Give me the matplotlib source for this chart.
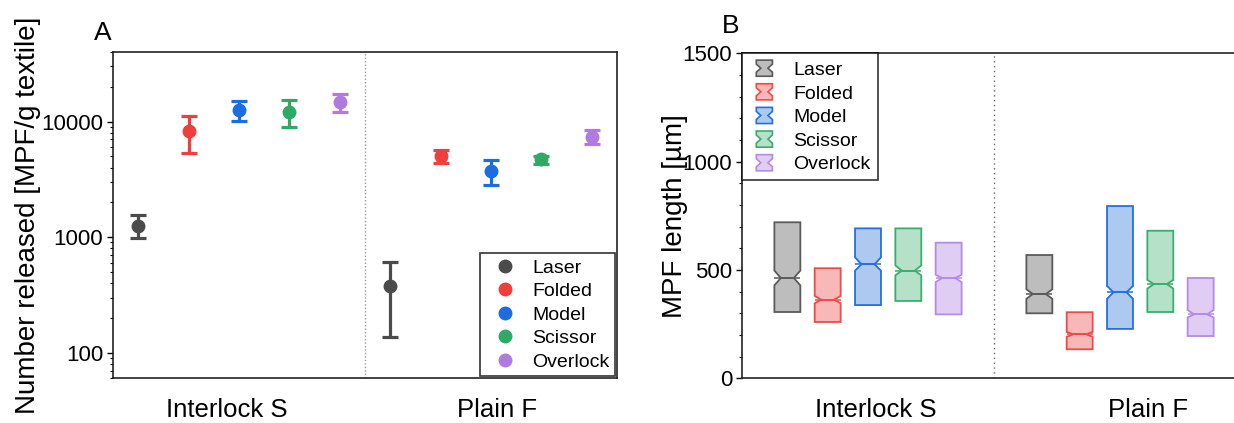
import matplotlib
matplotlib.use("Agg")
import matplotlib.pyplot as plt
import numpy as np
from matplotlib.legend_handler import HandlerBase
from matplotlib.patches import Polygon, Patch
from matplotlib.ticker import FixedLocator, NullFormatter, LogLocator, MultipleLocator

plt.rcParams['font.family'] = ['Liberation Sans', 'DejaVu Sans']

# ---------------- data ----------------
groups = ["Interlock S", "Plain F"]
methods = ["Laser", "Folded", "Model", "Scissor", "Overlock"]

# Panel A: number released (mean, sd) per method, per group
num_mean_interlock = [1260, 8300, 12600, 12200, 14700]
num_sd_interlock = [280, 2950, 2500, 3200, 2500]
num_mean_plain = [375, 5050, 3750, 4700, 7400]
num_sd_plain = [237, 670, 940, 380, 1050]

# Panel B: MPF length box stats per method (q1, median, q3, notch low, notch high)
len_q1_interlock = [306, 260, 338, 357, 295]
len_med_interlock = [463, 363, 526, 497, 463]
len_q3_interlock = [720, 508, 692, 692, 626]
len_cilo_interlock = [429, 346, 497, 475, 444]
len_cihi_interlock = [497, 380, 558, 521, 478]

len_q1_plain = [300, 134, 228, 306, 195]
len_med_plain = [389, 203, 397, 435, 295]
len_q3_plain = [569, 305, 795, 681, 463]
len_cilo_plain = [367, 192, 367, 414, 281]
len_cihi_plain = [411, 214, 426, 454, 315]

# ---------------- styles ----------------
dot_colors = ["#4b4b4b", "#ef3e3e", "#1b6de0", "#2eaa66", "#b07be0"]
box_fill = ["#bdbdbd", "#f8b8b8", "#adc9f0", "#b5e1c8", "#e0cdf3"]
box_edge = ["#5a5a5a", "#ee4a4a", "#2270e0", "#3aad6e", "#b48ae6"]

fig = plt.figure(figsize=(12.34, 4.23), dpi=100)

axA = fig.add_axes([113/1234, 1-378.3/423, 504/1234, (378.3-52)/423])
axB = fig.add_axes([742/1234, 1-378.3/423, 504/1234, (378.3-53.3)/423])

group_pos = np.array([1.0, 2.0])

# ---------------- Panel A ----------------
offA = 0.2
handlesA = []
for i, m in enumerate(methods):
    xs = group_pos + (i - 2) * offA
    ys = [num_mean_interlock[i], num_mean_plain[i]]
    es = [num_sd_interlock[i], num_sd_plain[i]]
    c = axA.errorbar(xs, ys, yerr=es, fmt='o', color=dot_colors[i], ms=9,
                     capsize=6, capthick=2.3, elinewidth=2.3)
    handlesA.append(c.lines[0])

axA.set_yscale('log')
axA.set_ylim(60, 40000)
axA.set_xlim(0.5, 2.5)
axA.axvline(1.5, color='#9a9a9a', lw=1.0, ls=(0, (1, 1.5)))
axA.yaxis.set_major_locator(FixedLocator([100, 1000, 10000]))
axA.set_yticklabels(["100", "1000", "10000"])
axA.yaxis.set_minor_locator(LogLocator(base=10, subs=np.arange(2, 10)))
axA.yaxis.set_minor_formatter(NullFormatter())
axA.set_xticks([0.952, 2.024])
axA.set_xticklabels(groups)
axA.set_ylabel("Number released [MPF/g textile]", fontsize=20)
axA.yaxis.set_label_coords(-0.143, 0.5)
leg = axA.legend(handles=handlesA, labels=methods, loc='lower right',
                 bbox_to_anchor=(0.997, 0.006),
                 borderaxespad=0, fontsize=14, frameon=True, fancybox=False,
                 edgecolor='black', labelspacing=0.3, handlelength=2.0,
                 handletextpad=0.4, borderpad=0.3)
leg.get_frame().set_linewidth(1.2)

# ---------------- Panel B ----------------
offB = 0.16
wB = 0.103
for i, m in enumerate(methods):
    stats = []
    q1s = [len_q1_interlock[i], len_q1_plain[i]]
    meds = [len_med_interlock[i], len_med_plain[i]]
    q3s = [len_q3_interlock[i], len_q3_plain[i]]
    clo = [len_cilo_interlock[i], len_cilo_plain[i]]
    chi = [len_cihi_interlock[i], len_cihi_plain[i]]
    for g in range(2):
        stats.append(dict(med=meds[g], q1=q1s[g], q3=q3s[g], cilo=clo[g], cihi=chi[g],
                          whislo=q1s[g], whishi=q3s[g], fliers=[], label=m))
    pos = group_pos + (i - 2) * offB
    bp = axB.bxp(stats, positions=pos, widths=wB, shownotches=True, patch_artist=True,
                 showcaps=False, showfliers=False, manage_ticks=False,
                 boxprops=dict(facecolor=box_fill[i], edgecolor=box_edge[i], linewidth=1.3),
                 medianprops=dict(color=box_edge[i], linewidth=1.3),
                 whiskerprops=dict(linewidth=0))
    axB.hlines(meds, pos - wB/2, pos + wB/2, color=box_edge[i], lw=1.1)

axB.set_xlim(0.5, 2.5)
axB.set_ylim(0, 1500)
axB.axvline(1.5, color='#6a6a6a', lw=1.0, ls=(0, (1, 2.5)))
axB.yaxis.set_major_locator(FixedLocator([0, 500, 1000, 1500]))
axB.yaxis.set_minor_locator(MultipleLocator(100))
axB.set_xticks([1.03, 2.11])
axB.set_xticklabels(groups)
axB.set_ylabel("MPF length [\u00b5m]", fontsize=20)
axB.yaxis.set_label_coords(-0.108, 0.5)


class NotchHandler(HandlerBase):
    def create_artists(self, legend, orig_handle, xdescent, ydescent, width, height,
                       fontsize, trans):
        w = height * 1.0
        xc = -xdescent + width / 2
        x0, x1 = xc - w / 2, xc + w / 2
        y0 = -ydescent
        y1 = y0 + height
        ym = (y0 + y1) / 2
        nw = w * 0.22
        pts = [(x0, y0), (x1, y0), (x1, y0 + height * 0.25), (xc + nw, ym),
               (x1, y0 + height * 0.75), (x1, y1), (x0, y1), (x0, y0 + height * 0.75),
               (xc - nw, ym), (x0, y0 + height * 0.25)]
        p = Polygon(pts, closed=True, facecolor=orig_handle.get_facecolor(),
                    edgecolor=orig_handle.get_edgecolor(), linewidth=1.2, transform=trans)
        return [p]


handlesB = [Patch(facecolor=box_fill[i], edgecolor=box_edge[i], label=m)
            for i, m in enumerate(methods)]
legB = axB.legend(handles=handlesB, loc='upper left', bbox_to_anchor=(0.0, 1.0),
                  borderaxespad=0, fontsize=14, frameon=True, fancybox=False,
                  edgecolor='black', labelspacing=0.25, handlelength=1.6,
                  handleheight=0.9, handletextpad=0.7, borderpad=0.35,
                  handler_map={Patch: NotchHandler()})
legB.get_frame().set_linewidth(1.2)

# ---------------- common styling ----------------
for ax in (axA, axB):
    for s in ax.spines.values():
        s.set_linewidth(1.2)
        s.set_color('#222222')
    ax.tick_params(axis='y', which='major', direction='out', length=4, width=1.0,
                   labelsize=16, pad=3)
    ax.tick_params(axis='y', which='minor', direction='out', length=2.5, width=0.8)
    ax.tick_params(axis='x', which='both', length=0, labelsize=18.5, pad=14)

fig.text(103/1234, 1-40/423, "A", fontsize=19, ha='center', va='baseline')
fig.text(731/1234, 1-33/423, "B", fontsize=19, ha='center', va='baseline')

fig.savefig("out.png", dpi=100)
